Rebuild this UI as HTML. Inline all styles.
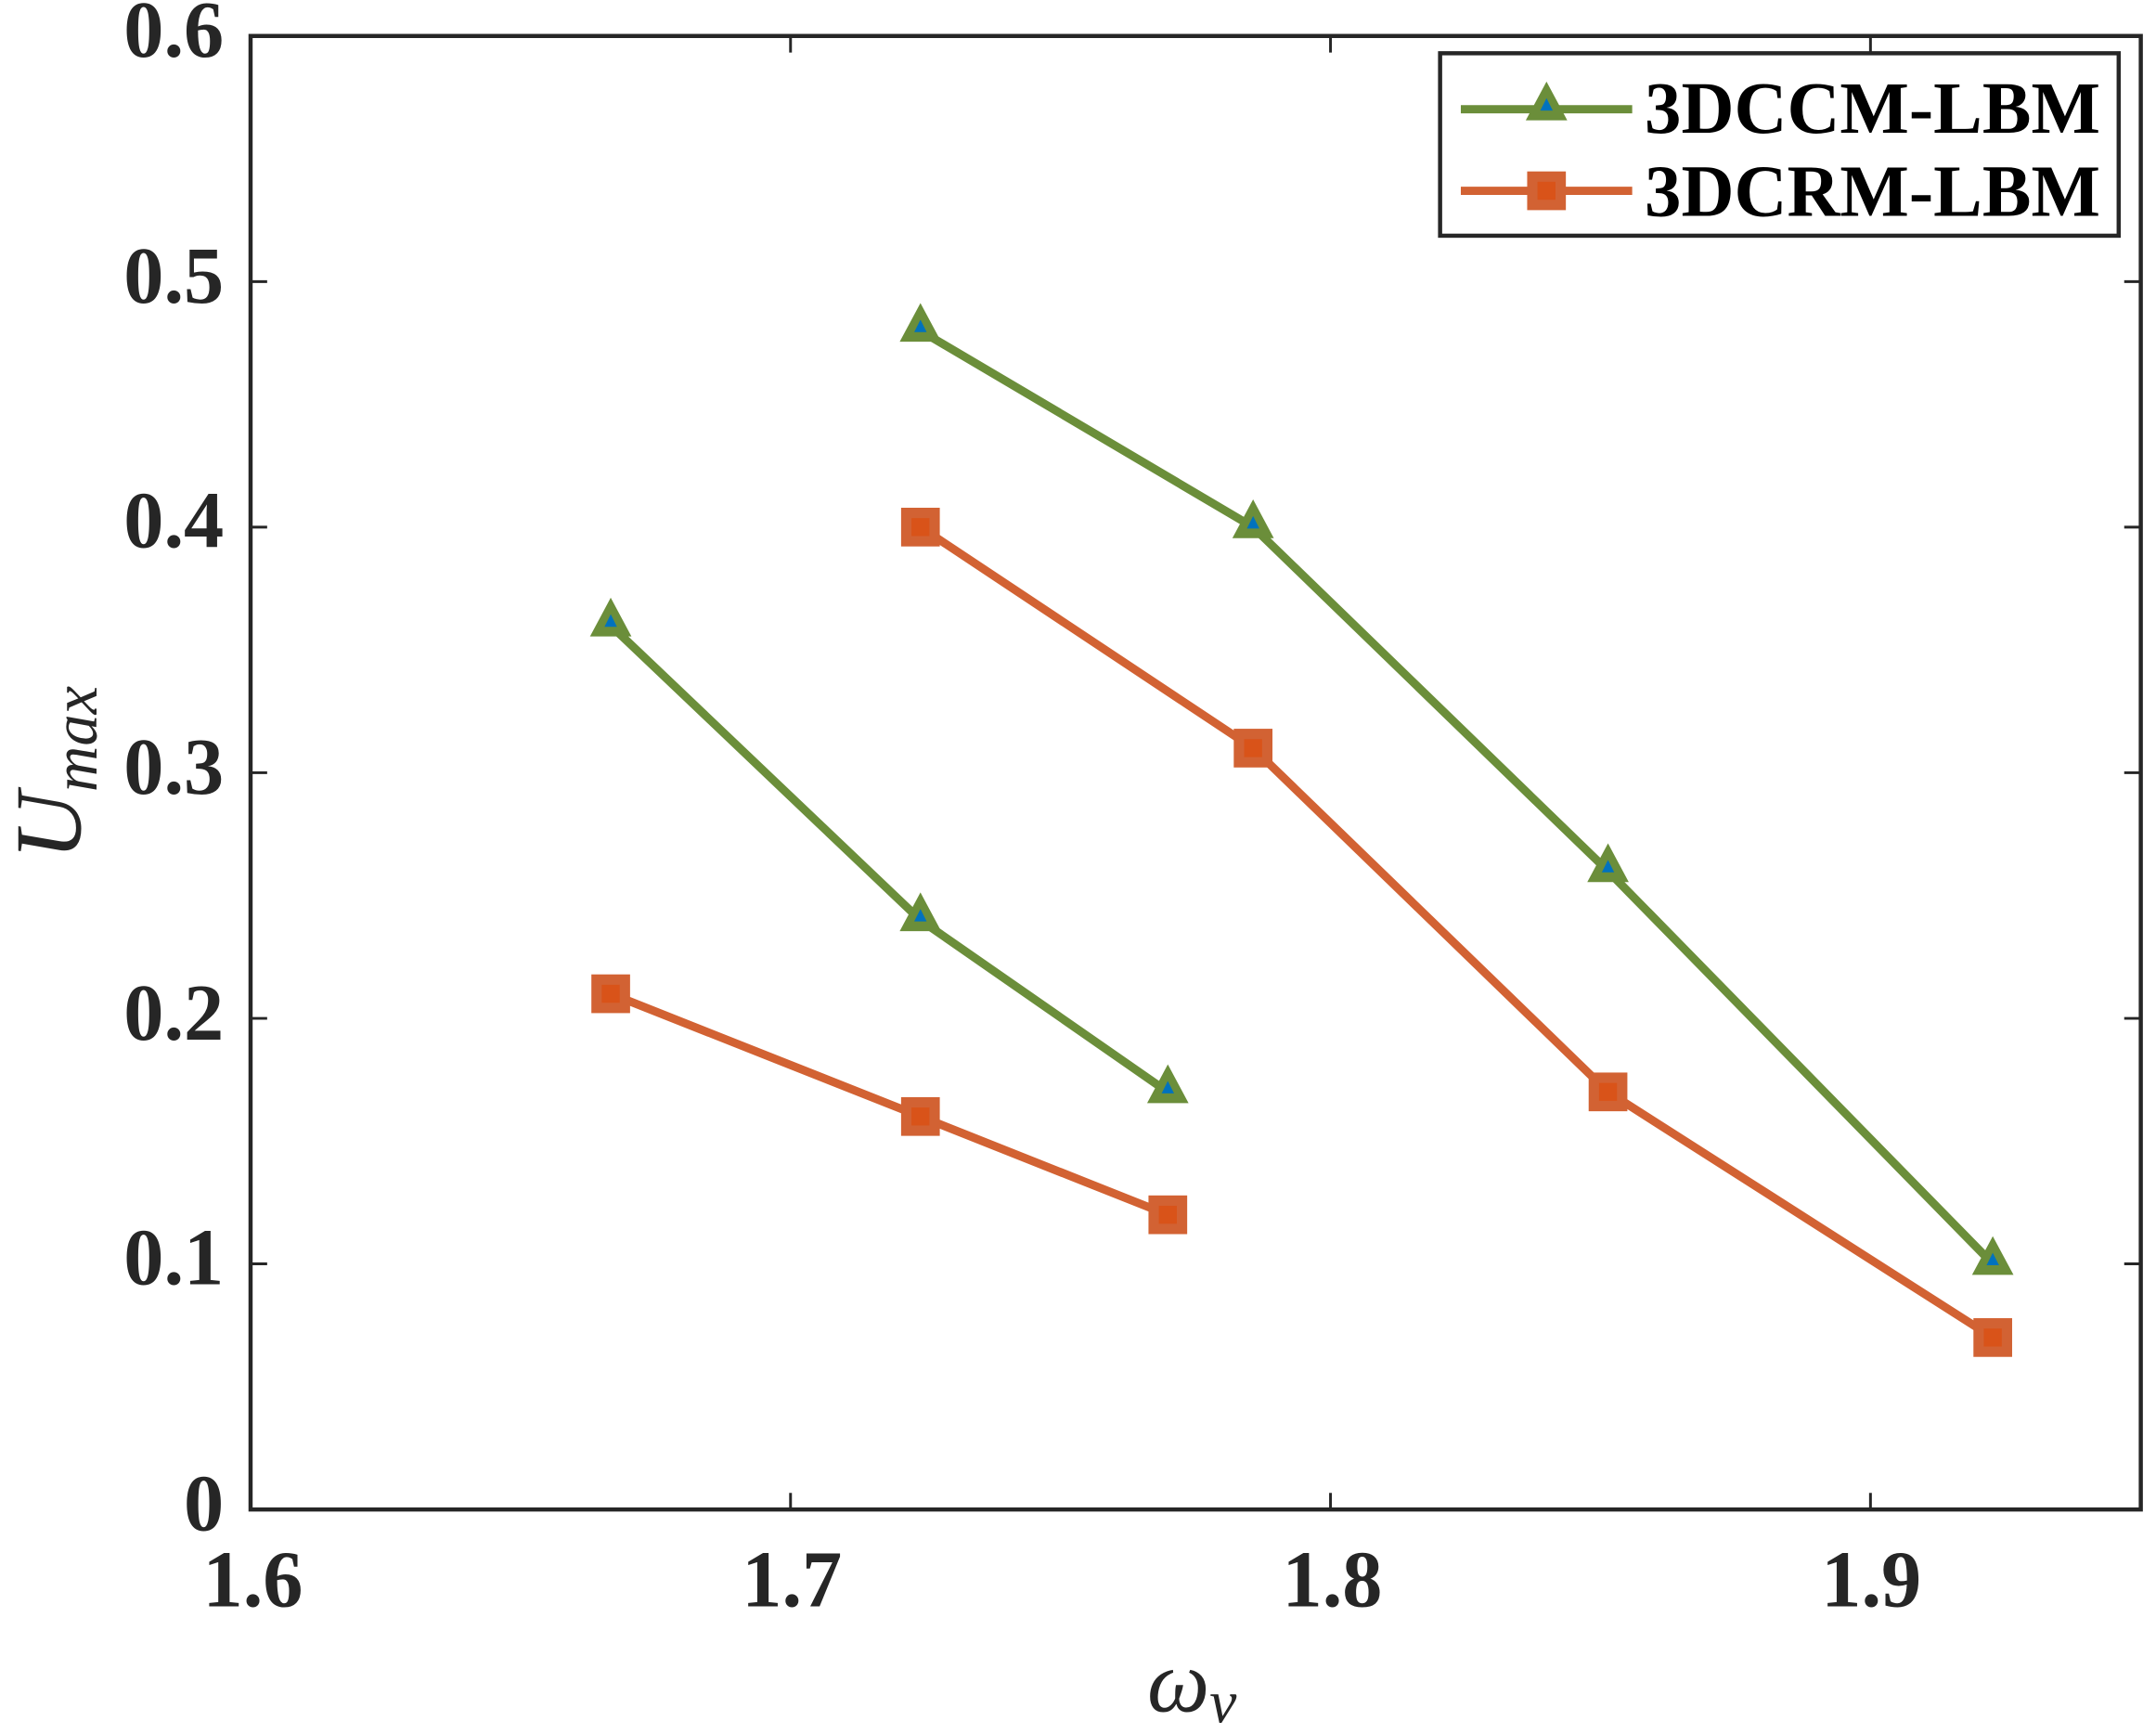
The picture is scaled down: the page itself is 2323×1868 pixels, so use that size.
<!DOCTYPE html>
<html><head><meta charset="utf-8"><style>
html,body{margin:0;padding:0;background:#fff;}
svg{display:block;}
text{font-family:"Liberation Serif",serif;fill:#262626;}
</style></head><body>
<svg width="2323" height="1868" viewBox="0 0 1560 1254.4" xmlns="http://www.w3.org/2000/svg">
<defs>
<g id="tri"><polygon points="0,-20 15,8 -15,8" fill="#6b8e3a"/><polygon points="0,-8 4.5,1 -4.5,1" fill="#0072bd"/></g>
<g id="sq"><rect x="-14" y="-14" width="28" height="28" fill="#d26233"/><rect x="-6.5" y="-6.5" width="13" height="13" fill="#d95319"/></g>
</defs>
<rect x="181.3" y="26" width="1367.7" height="1066" fill="none" stroke="#262626" stroke-width="3"/>
<g stroke="#262626" stroke-width="2">
<line x1="181.3" y1="1092" x2="181.3" y2="1080"/><line x1="181.3" y1="26" x2="181.3" y2="38"/>
<line x1="572" y1="1092" x2="572" y2="1080"/><line x1="572" y1="26" x2="572" y2="38"/>
<line x1="962.7" y1="1092" x2="962.7" y2="1080"/><line x1="962.7" y1="26" x2="962.7" y2="38"/>
<line x1="1353.4" y1="1092" x2="1353.4" y2="1080"/><line x1="1353.4" y1="26" x2="1353.4" y2="38"/>
<line x1="181.3" y1="914.3" x2="193.3" y2="914.3"/><line x1="1549" y1="914.3" x2="1537" y2="914.3"/>
<line x1="181.3" y1="736.7" x2="193.3" y2="736.7"/><line x1="1549" y1="736.7" x2="1537" y2="736.7"/>
<line x1="181.3" y1="559" x2="193.3" y2="559"/><line x1="1549" y1="559" x2="1537" y2="559"/>
<line x1="181.3" y1="381.3" x2="193.3" y2="381.3"/><line x1="1549" y1="381.3" x2="1537" y2="381.3"/>
<line x1="181.3" y1="203.7" x2="193.3" y2="203.7"/><line x1="1549" y1="203.7" x2="1537" y2="203.7"/>
</g>
<g font-size="58" font-weight="bold" text-anchor="end">
<text x="162" y="1107">0</text>
<text x="162" y="929">0.1</text>
<text x="162" y="752">0.2</text>
<text x="162" y="574">0.3</text>
<text x="162" y="396">0.4</text>
<text x="162" y="219">0.5</text>
<text x="162" y="41">0.6</text>
</g>
<g font-size="58" font-weight="bold" text-anchor="middle">
<text x="183" y="1162">1.6</text>
<text x="573" y="1162">1.7</text>
<text x="964" y="1162">1.8</text>
<text x="1354" y="1162">1.9</text>
</g>
<text x="830" y="1238" font-size="64" font-style="italic">ω<tspan font-size="44" dy="8">ν</tspan></text>
<text transform="translate(58,622) rotate(-90)" font-size="68" font-style="italic">U<tspan font-size="46" dy="12">max</tspan></text>
<g fill="none" stroke-width="6" stroke-linejoin="round">
<polyline stroke="#6b8e3a" points="441.9,452.4 666,665.6 845,790"/>
<polyline stroke="#6b8e3a" points="666,239.2 906.7,381.3 1163.5,630.1 1441.9,914.3"/>
<polyline stroke="#d26233" points="441.9,718.9 666,807.7 845,878.8"/>
<polyline stroke="#d26233" points="666,381.3 906.7,541.2 1163.5,789.9 1441.9,967.6"/>
</g>
<use href="#tri" x="441.9" y="452.4"/><use href="#tri" x="666" y="665.6"/><use href="#tri" x="845" y="790"/>
<use href="#tri" x="666" y="239.2"/><use href="#tri" x="906.7" y="381.3"/><use href="#tri" x="1163.5" y="630.1"/><use href="#tri" x="1441.9" y="914.3"/>
<use href="#sq" x="441.9" y="718.9"/><use href="#sq" x="666" y="807.7"/><use href="#sq" x="845" y="878.8"/>
<use href="#sq" x="666" y="381.3"/><use href="#sq" x="906.7" y="541.2"/><use href="#sq" x="1163.5" y="789.9"/><use href="#sq" x="1441.9" y="967.6"/>
<rect x="1042" y="38.5" width="491" height="132" fill="#fff" stroke="#262626" stroke-width="3"/>
<line x1="1057" y1="79" x2="1181" y2="79" stroke="#6b8e3a" stroke-width="6"/>
<use href="#tri" x="1119" y="79"/>
<line x1="1057" y1="138" x2="1181" y2="138" stroke="#d26233" stroke-width="6"/>
<use href="#sq" x="1119" y="138"/>
<g font-size="53" font-weight="bold">
<text x="1190" y="96" style="fill:#000">3DCCM-LBM</text>
<text x="1190" y="156" style="fill:#000">3DCRM-LBM</text>
</g>
</svg>
</body></html>
